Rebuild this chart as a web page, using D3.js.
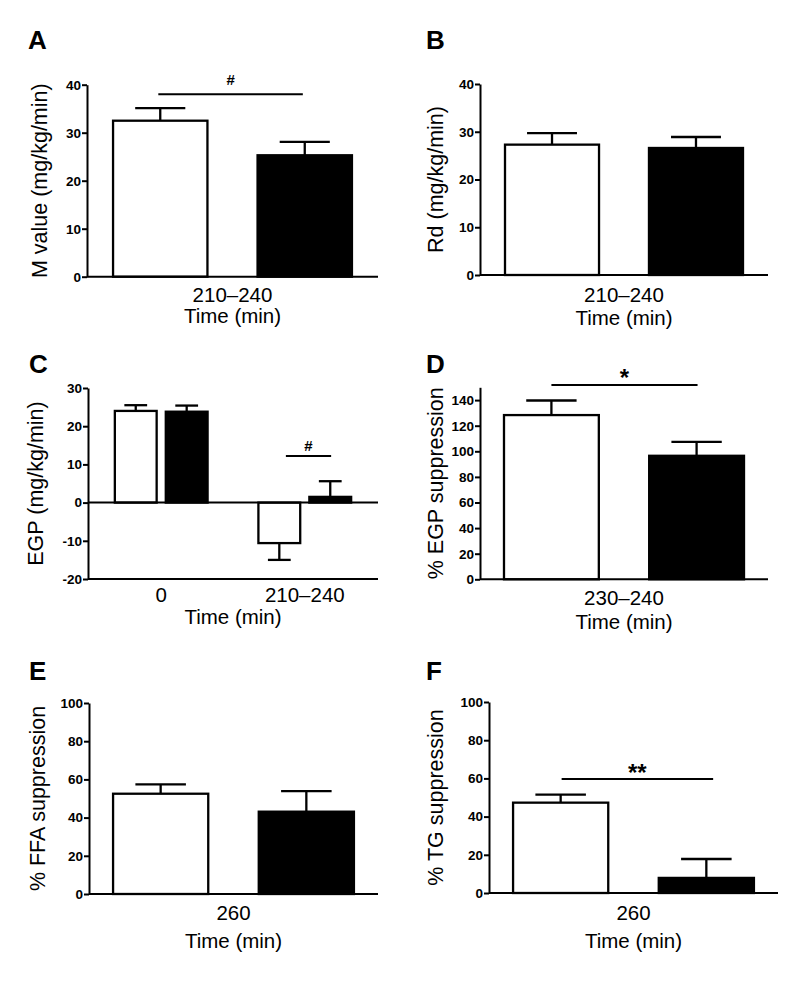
<!DOCTYPE html>
<html><head><meta charset="utf-8">
<script src="https://cdn.jsdelivr.net/npm/d3@7"></script>
<style>
html,body{margin:0;padding:0;background:#fff;}
svg{display:block;}
text{font-family:"Liberation Sans",Arial,Helvetica,sans-serif;fill:#000;}
</style>
</head><body>
<script>
// ---------- data ----------
const groups = ["white", "black"];
const catsA = ["210–240"];
const meanA = [32.5, 25.3];
const semA = [2.6, 2.8];
const ticksA = [0, 10, 20, 30, 40];
const domA = [0, 40];

const catsB = ["210–240"];
const meanB = [27.3, 26.6];
const semB = [2.4, 2.3];
const ticksB = [0, 10, 20, 30, 40];
const domB = [0, 40];

const catsC = ["0", "210–240"];
const meanCWhite = [24.0, -10.6];
const meanCBlack = [23.8, 1.5];
const semCWhite = [1.5, 4.4];
const semCBlack = [1.6, 4.1];
const ticksC = [-20, -10, 0, 10, 20, 30];
const domC = [-20, 30];

const catsD = ["230–240"];
const meanD = [128.3, 96.5];
const semD = [11.4, 10.9];
const ticksD = [0, 20, 40, 60, 80, 100, 120, 140];
const domD = [0, 150];

const catsE = ["260"];
const meanE = [52.5, 43.1];
const semE = [4.9, 10.8];
const ticksE = [0, 20, 40, 60, 80, 100];
const domE = [0, 100];

const catsF = ["260"];
const meanF = [47.3, 7.9];
const semF = [4.2, 9.9];
const ticksF = [0, 20, 40, 60, 80, 100];
const domF = [0, 100];

const yLabels = ["M value (mg/kg/min)", "Rd (mg/kg/min)", "EGP (mg/kg/min)",
  "% EGP suppression", "% FFA suppression", "% TG suppression"];
const letters = ["A", "B", "C", "D", "E", "F"];
const xTitle = "Time (min)";
const sigA = {label: "#", value: 38.0, cat: 0};
const sigC = {label: "#", value: 12.2, cat: 1};
const sigD = {label: "*", value: 151.8, cat: 0};
const sigF = {label: "**", value: 59.7, cat: 0};

function rows1(cats, means, sems) {
  return groups.map((g, i) => ({cat: cats[0], group: g, mean: means[i], sem: sems[i]}));
}
const rowsC = [];
catsC.forEach((c, i) => {
  rowsC.push({cat: c, group: "white", mean: meanCWhite[i], sem: semCWhite[i]});
  rowsC.push({cat: c, group: "black", mean: meanCBlack[i], sem: semCBlack[i]});
});

// ---------- layout (positions only) ----------
const panels = [
  {cats: catsA, rows: rows1(catsA, meanA, semA), ticks: ticksA, dom: domA, sig: sigA,
   L: 87, R: 378, yTop: 84.7, yBot: 276.7, pi0: 0, po0: 0.104, pi1: 0.333,
   letter: [28, 49], ylabX: 47, catDy: 25, timeDy: 46, sigF0: 0.48, sigF1: 0.48, sigDy: -9, sigSize: 15},
  {cats: catsB, rows: rows1(catsB, meanB, semB), ticks: ticksB, dom: domB, sig: null,
   L: 480, R: 768, yTop: 84, yBot: 275, pi0: 0, po0: 0.10, pi1: 0.333,
   letter: [426, 49], ylabX: 443, catDy: 26.5, timeDy: 49.5},
  {cats: catsC, rows: rowsC, ticks: ticksC, dom: domC, sig: sigC,
   L: 88, R: 378, yTop: 388, yBot: 579, pi0: 0.34, po0: 0.18, pi1: 0.14,
   letter: [29, 373], ylabX: 43, catDy: 22.5, timeDy: 44.5, sigF0: 0.65, sigF1: 0.52, sigDy: -5, sigSize: 15, zero: true},
  {cats: catsD, rows: rows1(catsD, meanD, semD), ticks: ticksD, dom: domD, sig: sigD,
   L: 480, R: 768, yTop: 387.3, yBot: 579.3, pi0: 0, po0: 0.095, pi1: 0.333,
   letter: [426, 373], ylabX: 443, catDy: 25.7, timeDy: 50, sigF0: 0.5, sigF1: 0.51, sigDy: 1, sigSize: 24},
  {cats: catsE, rows: rows1(catsE, meanE, semE), ticks: ticksE, dom: domE, sig: null,
   L: 89, R: 378, yTop: 703, yBot: 894, pi0: 0, po0: 0.095, pi1: 0.333,
   letter: [29, 680], ylabX: 45, catDy: 26, timeDy: 53.5},
  {cats: catsF, rows: rows1(catsF, meanF, semF), ticks: ticksF, dom: domF, sig: sigF,
   L: 489, R: 778, yTop: 702, yBot: 893, pi0: 0, po0: 0.095, pi1: 0.333,
   letter: [426, 680], ylabX: 443, catDy: 27, timeDy: 54.5, sigF0: 0.51, sigF1: 0.57, sigDy: 2, sigSize: 24}
];

const svg = d3.select("body").append("svg").attr("width", 794).attr("height", 986);
svg.append("rect").attr("width", 794).attr("height", 986).attr("fill", "#fff");

panels.forEach((p, idx) => {
  const g = svg.append("g");
  const y = d3.scaleLinear().domain(p.dom).range([p.yBot, p.yTop]);
  const x0 = d3.scaleBand().domain(p.cats).range([p.L, p.R]).paddingInner(p.pi0).paddingOuter(p.po0);
  const x1 = d3.scaleBand().domain(groups).range([0, x0.bandwidth()]).paddingInner(p.pi1).paddingOuter(0);
  const bw = x1.bandwidth();
  const capW = bw * 0.52;

  p.rows.forEach(r => {
    const bx = x0(r.cat) + x1(r.group);
    const yv = y(r.mean), y0 = y(0);
    const sign = r.mean >= 0 ? 1 : -1;
    const ye = y(r.mean + sign * r.sem);
    const cx = bx + bw / 2;
    g.append("line").attr("x1", cx).attr("x2", cx).attr("y1", yv).attr("y2", ye)
      .attr("stroke", "#000").attr("stroke-width", 2.3);
    g.append("line").attr("x1", cx - capW / 2).attr("x2", cx + capW / 2).attr("y1", ye).attr("y2", ye)
      .attr("stroke", "#000").attr("stroke-width", 2.3);
    g.append("rect").attr("x", bx + 1).attr("width", bw - 2)
      .attr("y", Math.min(yv, y0)).attr("height", Math.abs(y0 - yv))
      .attr("fill", r.group === "white" ? "#fff" : "#000")
      .attr("stroke", "#000").attr("stroke-width", 2.3);
  });

  if (p.zero) {
    g.append("line").attr("x1", p.L).attr("x2", p.R).attr("y1", y(0)).attr("y2", y(0))
      .attr("stroke", "#000").attr("stroke-width", 2);
  }

  const ya = g.append("g").attr("transform", `translate(${p.L},0)`)
    .call(d3.axisLeft(y).tickValues(p.ticks).tickSizeOuter(0).tickSizeInner(5).tickPadding(1)
      .tickFormat(d => String(d)));
  ya.attr("font-size", null).attr("font-family", null);
  ya.selectAll("path,line").attr("stroke", "#000").attr("stroke-width", 2);
  ya.selectAll("text").style("font-family", "'Liberation Sans', Arial, sans-serif")
    .style("font-size", "13.5px").style("font-weight", "bold").attr("fill", "#000");

  const xa = g.append("g").attr("transform", `translate(0,${p.yBot})`)
    .call(d3.axisBottom(x0).tickSize(0).tickSizeOuter(0));
  xa.attr("font-size", null).attr("font-family", null);
  xa.select("path").attr("stroke", "#000").attr("stroke-width", 2).attr("d", `M${p.L},0H${p.R}`);
  xa.selectAll("text").style("font-family", "'Liberation Sans', Arial, sans-serif")
    .style("font-size", "20.5px").attr("fill", "#000").attr("y", p.catDy).attr("dy", 0);

  g.append("text").attr("x", (p.L + p.R) / 2).attr("y", p.yBot + p.timeDy)
    .attr("text-anchor", "middle").style("font-size", "20.5px").text(xTitle);

  const ym = (p.yTop + p.yBot) / 2;
  g.append("text").attr("transform", `translate(${p.ylabX},${ym}) rotate(-90)`)
    .attr("text-anchor", "middle").style("font-size", "21.5px").text(yLabels[idx]);

  g.append("text").attr("x", p.letter[0]).attr("y", p.letter[1])
    .style("font-size", "26px").style("font-weight", "bold").text(letters[idx]);

  if (p.sig) {
    const s = p.sig, c = p.cats[s.cat];
    const xs = x0(c) + x1("white") + bw * p.sigF0;
    const xe = x0(c) + x1("black") + bw * p.sigF1;
    const ys = y(s.value);
    g.append("line").attr("x1", xs).attr("x2", xe).attr("y1", ys).attr("y2", ys)
      .attr("stroke", "#000").attr("stroke-width", 2);
    g.append("text").attr("x", (xs + xe) / 2).attr("y", ys + p.sigDy)
      .attr("text-anchor", "middle").style("font-size", p.sigSize + "px").style("font-weight", "bold")
      .text(s.label);
  }
});
</script>
</body></html>
